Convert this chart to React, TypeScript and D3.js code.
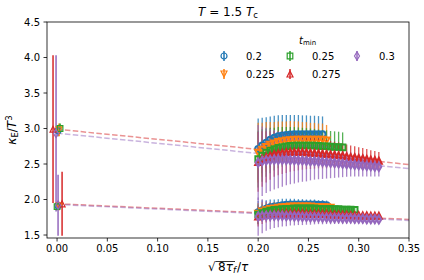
import React from 'react';
import * as d3 from 'd3';

// t_min values and styling per series
const tmins = ['0.2', '0.225', '0.25', '0.275', '0.3'];
const colors = ['#1f77b4', '#ff7f0e', '#2ca02c', '#d62728', '#9467bd'];
const markers = ['o', 'v', 's', '^', 'd'];

// sqrt(8 tau_f)/tau grid shared by all series
const xGrid = [0.200, 0.204, 0.208, 0.212, 0.216, 0.220, 0.224, 0.228, 0.232, 0.236, 0.240,
  0.244, 0.248, 0.252, 0.256, 0.260, 0.264, 0.268, 0.272, 0.276, 0.280, 0.284, 0.288,
  0.292, 0.296, 0.300, 0.304, 0.308, 0.312, 0.316, 0.320];

// upper band
const upBlue = [2.71, 2.76, 2.80, 2.84, 2.87, 2.89, 2.90, 2.91, 2.915, 2.92, 2.92, 2.92, 2.92, 2.92, 2.92, 2.92, 2.92];
const upBlueErr = [0.43, 0.39, 0.36, 0.33, 0.31, 0.295, 0.29, 0.28, 0.275, 0.27, 0.27, 0.265, 0.265, 0.26, 0.26, 0.255, 0.25];
const upOrange = [2.66, 2.70, 2.74, 2.77, 2.79, 2.81, 2.82, 2.83, 2.835, 2.84, 2.84, 2.84, 2.84, 2.84, 2.84, 2.84, 2.84, 2.83];
const upOrangeErr = [0.42, 0.38, 0.35, 0.32, 0.30, 0.29, 0.28, 0.27, 0.27, 0.26, 0.26, 0.25, 0.25, 0.24, 0.24, 0.23, 0.23, 0.22];
const upGreen = [2.57, 2.62, 2.66, 2.69, 2.71, 2.73, 2.74, 2.75, 2.755, 2.76, 2.76, 2.76, 2.76, 2.76, 2.76, 2.755, 2.75, 2.75, 2.745, 2.74, 2.74, 2.735];
const upGreenErr = [0.40, 0.37, 0.34, 0.32, 0.30, 0.29, 0.28, 0.27, 0.265, 0.26, 0.255, 0.25, 0.245, 0.24, 0.235, 0.23, 0.23, 0.225, 0.22, 0.22, 0.215, 0.21];
const upRed = [2.53, 2.57, 2.60, 2.62, 2.64, 2.65, 2.66, 2.665, 2.67, 2.67, 2.67, 2.67, 2.665, 2.66, 2.655, 2.65,
  2.645, 2.64, 2.635, 2.63, 2.625, 2.62, 2.61, 2.60, 2.595, 2.585, 2.58, 2.57, 2.56, 2.555, 2.545];
const upRedErr = [0.42, 0.39, 0.36, 0.34, 0.32, 0.31, 0.30, 0.29, 0.28, 0.27, 0.26, 0.25, 0.24, 0.23, 0.22, 0.21,
  0.205, 0.20, 0.19, 0.185, 0.18, 0.17, 0.165, 0.16, 0.155, 0.15, 0.145, 0.14, 0.135, 0.13, 0.125];
const upPurple = [2.52, 2.54, 2.55, 2.555, 2.56, 2.56, 2.56, 2.56, 2.555, 2.555, 2.55, 2.55, 2.545, 2.54, 2.54, 2.535,
  2.53, 2.525, 2.52, 2.515, 2.51, 2.505, 2.50, 2.495, 2.49, 2.485, 2.48, 2.475, 2.47, 2.465, 2.46];
const upPurpleErr = [0.53, 0.49, 0.46, 0.44, 0.42, 0.40, 0.38, 0.36, 0.34, 0.33, 0.31, 0.30, 0.29, 0.27, 0.26, 0.25,
  0.24, 0.23, 0.22, 0.21, 0.20, 0.19, 0.18, 0.17, 0.165, 0.16, 0.155, 0.15, 0.145, 0.14, 0.135];

// lower band
const loBlue = [1.82, 1.85, 1.87, 1.89, 1.90, 1.91, 1.92, 1.925, 1.93, 1.93, 1.93, 1.93, 1.93, 1.93, 1.93, 1.925, 1.925, 1.92];
const loBlueErr = [0.16, 0.14, 0.12, 0.11, 0.10, 0.095, 0.09, 0.085, 0.08, 0.08, 0.075, 0.075, 0.07, 0.07, 0.07, 0.065, 0.065, 0.065];
const loOrange = [1.80, 1.83, 1.85, 1.865, 1.875, 1.885, 1.89, 1.895, 1.90, 1.90, 1.90, 1.90, 1.90, 1.90, 1.895, 1.895, 1.89, 1.89, 1.885];
const loOrangeErr = [0.15, 0.13, 0.11, 0.10, 0.09, 0.085, 0.08, 0.075, 0.07, 0.07, 0.065, 0.065, 0.06, 0.06, 0.06, 0.055, 0.055, 0.055, 0.055];
const loGreen = [1.79, 1.81, 1.83, 1.845, 1.855, 1.86, 1.865, 1.87, 1.87, 1.875, 1.875, 1.875, 1.875, 1.875, 1.875,
  1.87, 1.87, 1.87, 1.87, 1.865, 1.865, 1.86, 1.86, 1.86, 1.855];
const loGreenErr = [0.14, 0.12, 0.11, 0.10, 0.09, 0.085, 0.08, 0.075, 0.07, 0.07, 0.065, 0.065, 0.06, 0.06, 0.06,
  0.055, 0.055, 0.055, 0.05, 0.05, 0.05, 0.05, 0.045, 0.045, 0.045];
const loRed = [1.76, 1.775, 1.785, 1.79, 1.795, 1.80, 1.80, 1.805, 1.805, 1.805, 1.805, 1.805, 1.80, 1.80, 1.80, 1.80,
  1.795, 1.795, 1.79, 1.79, 1.79, 1.785, 1.785, 1.78, 1.78, 1.78, 1.775, 1.775, 1.77, 1.77, 1.77];
const loRedErr = [0.14, 0.12, 0.11, 0.10, 0.09, 0.085, 0.08, 0.075, 0.07, 0.068, 0.065, 0.062, 0.06, 0.058, 0.056, 0.054,
  0.052, 0.05, 0.048, 0.046, 0.045, 0.044, 0.043, 0.042, 0.041, 0.04, 0.04, 0.039, 0.038, 0.038, 0.037];
const loPurple = [1.76, 1.765, 1.77, 1.77, 1.77, 1.77, 1.77, 1.765, 1.765, 1.76, 1.76, 1.755, 1.755, 1.75, 1.75, 1.75,
  1.745, 1.745, 1.74, 1.74, 1.74, 1.735, 1.735, 1.735, 1.73, 1.73, 1.73, 1.725, 1.725, 1.725, 1.72];
const loPurpleErr = [0.27, 0.24, 0.21, 0.19, 0.17, 0.16, 0.15, 0.14, 0.13, 0.125, 0.12, 0.115, 0.11, 0.105, 0.10, 0.097,
  0.094, 0.091, 0.088, 0.085, 0.083, 0.081, 0.079, 0.077, 0.075, 0.073, 0.071, 0.07, 0.068, 0.067, 0.066];

// continuum extrapolated points (one per series, per band)
const upContX = [0.001, 0.002, 0.003, -0.004, -0.001];
const upContY = [2.97, 2.98, 3.00, 2.99, 2.93];
const upContErr = [0.08, 0.09, 0.07, 1.04, 1.10];
const loContX = [0.001, 0.002, 0.0, 0.005, 0.001];
const loContY = [1.91, 1.91, 1.90, 1.94, 1.92];
const loContErr = [0.05, 0.06, 0.05, 0.45, 0.43];

// linear fits drawn dashed (series index, intercept, slope)
const fitSeries = [3, 4];
const upFitB = [2.99, 2.935];
const upFitM = [-1.42, -1.43];
const loFitB = [1.94, 1.93];
const loFitM = [-0.63, -0.64];

const xTickValues = [0, 0.05, 0.1, 0.15, 0.2, 0.25, 0.3, 0.35];
const yTickValues = [1.5, 2.0, 2.5, 3.0, 3.5, 4.0, 4.5];

const W = 424, H = 280;
const M = { left: 47, right: 15, top: 22, bottom: 42 };
const iw = W - M.left - M.right;
const ih = H - M.top - M.bottom;

function markerPath(kind: string): string {
  switch (kind) {
    case 'o': return 'M3,0A3,3 0 1,1 -3,0A3,3 0 1,1 3,0Z';
    case 'v': return 'M0,3L-3,-3L3,-3Z';
    case '^': return 'M0,-3L-3,3L3,3Z';
    case 's': return 'M-2.8,-2.8L2.8,-2.8L2.8,2.8L-2.8,2.8Z';
    default: return 'M0,-4.2L2.5,0L0,4.2L-2.5,0Z';
  }
}

const App = () => {
  const x = d3.scaleLinear().domain([-0.01, 0.35]).range([0, iw]);
  const y = d3.scaleLinear().domain([1.458, 4.5]).range([ih, 0]);

  const groups = [
    {
      vals: [upBlue, upOrange, upGreen, upRed, upPurple],
      errs: [upBlueErr, upOrangeErr, upGreenErr, upRedErr, upPurpleErr],
      cx: upContX, cy: upContY, ce: upContErr, fb: upFitB, fm: upFitM,
    },
    {
      vals: [loBlue, loOrange, loGreen, loRed, loPurple],
      errs: [loBlueErr, loOrangeErr, loGreenErr, loRedErr, loPurpleErr],
      cx: loContX, cy: loContY, ce: loContErr, fb: loFitB, fm: loFitM,
    },
  ];

  const line = d3.line<[number, number]>().x(d => x(d[0])).y(d => y(d[1]));

  const bars: React.ReactNode[] = [];
  const marks: React.ReactNode[] = [];
  groups.forEach((g, gi) => {
    g.vals.forEach((vals, si) => {
      vals.forEach((v, i) => {
        const e = g.errs[si][i];
        const px = x(xGrid[i]);
        bars.push(<line key={`b${gi}-${si}-${i}`} x1={px} x2={px} y1={y(v - e)} y2={y(v + e)}
          stroke={colors[si]} strokeWidth={1.3} opacity={0.8} />);
        marks.push(<path key={`m${gi}-${si}-${i}`} d={markerPath(markers[si])}
          transform={`translate(${px},${y(v)})`} fill="none" stroke={colors[si]} strokeWidth={2} />);
      });
    });
  });
  groups.forEach((g, gi) => {
    g.cx.forEach((cxv, si) => {
      const px = x(cxv);
      bars.push(<line key={`cb${gi}-${si}`} x1={px} x2={px} y1={y(g.cy[si] - g.ce[si])} y2={y(g.cy[si] + g.ce[si])}
        stroke={colors[si]} strokeWidth={1.5} />);
      marks.push(<path key={`cm${gi}-${si}`} d={markerPath(markers[si])}
        transform={`translate(${px},${y(g.cy[si])})`} fill="none" stroke={colors[si]} strokeWidth={1.2} />);
    });
  });

  const legendCols = [224, 290, 357];
  const legendRows = [56, 74];

  return (
    <svg width={W} height={H} style={{ position: 'absolute', left: 0, top: 0 }} fontFamily="DejaVu Sans">
      <rect width={W} height={H} fill="white" />
      <g transform={`translate(${M.left},${M.top})`}>
        <clipPath id="plotclip"><rect width={iw} height={ih} /></clipPath>
        <g clipPath="url(#plotclip)">
          {groups.map((g, gi) => fitSeries.map((si, k) => (
            <path key={`f${gi}-${k}`} d={line([[0, g.fb[k]], [0.35, g.fb[k] + g.fm[k] * 0.35]]) || ''}
              fill="none" stroke={colors[si]} strokeWidth={1.5} opacity={0.5} strokeDasharray="5.5 2.4" />
          )))}
          {bars}
          {marks}
        </g>
        <rect width={iw} height={ih} fill="none" stroke="black" strokeWidth={0.8} />
        {xTickValues.map(t => (
          <g key={`xt${t}`} transform={`translate(${x(t)},${ih})`}>
            <line y2={3.5} stroke="black" strokeWidth={0.8} />
            <text y={14} textAnchor="middle" fontSize={10}>{t.toFixed(2)}</text>
          </g>
        ))}
        {yTickValues.map(t => (
          <g key={`yt${t}`} transform={`translate(0,${y(t)})`}>
            <line x2={-3.5} stroke="black" strokeWidth={0.8} />
            <text x={-7} dy="0.35em" textAnchor="end" fontSize={10}>{t.toFixed(1)}</text>
          </g>
        ))}
      </g>

      <text x={M.left + iw / 2} y={15.5} textAnchor="middle" fontSize={12}>
        <tspan fontStyle="italic">T</tspan>
        <tspan>{' = 1.5 '}</tspan>
        <tspan fontStyle="italic">T</tspan>
        <tspan fontSize={8.5} dy={2}>c</tspan>
      </text>

      <text transform={`translate(16,${M.top + ih / 2}) rotate(-90)`} textAnchor="middle" fontSize={12}>
        <tspan fontStyle="italic">κ</tspan>
        <tspan fontSize={8.5} dy={2}>E</tspan>
        <tspan dy={-2}>/</tspan>
        <tspan fontStyle="italic">T</tspan>
        <tspan fontSize={8.5} dy={-4.5}>3</tspan>
      </text>

      <text y={271} fontSize={12}>
        <tspan x={208}>√</tspan>
        <tspan x={218}>8</tspan>
        <tspan fontStyle="italic">τ</tspan>
        <tspan fontStyle="italic" fontSize={8.5} dy={2}>f</tspan>
        <tspan x={237} dy={-2}>/</tspan>
        <tspan fontStyle="italic">τ</tspan>
      </text>
      <line x1={215.5} x2={235} y1={261.5} y2={261.5} stroke="black" strokeWidth={0.8} />

      <text x={299} y={43.5} fontSize={10}>
        <tspan fontStyle="italic">t</tspan>
        <tspan fontSize={7} dy={1.8}>min</tspan>
      </text>
      {tmins.map((t, i) => {
        const lx = legendCols[Math.floor(i / 2)];
        const ly = legendRows[i % 2];
        return (
          <g key={`lg${t}`} transform={`translate(${lx},${ly})`}>
            <line y1={-5} y2={5} stroke={colors[i]} strokeWidth={1.5} />
            <path d={markerPath(markers[i])} fill="none" stroke={colors[i]} strokeWidth={1.2} />
            <text x={22} dy="0.35em" fontSize={10}>{t}</text>
          </g>
        );
      })}
    </svg>
  );
};

export default App;
